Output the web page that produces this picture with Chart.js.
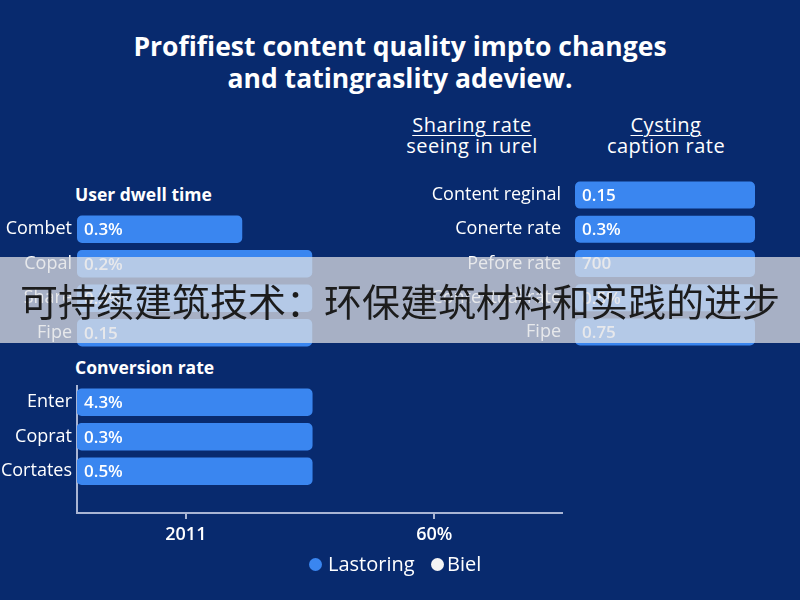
<!DOCTYPE html>
<html>
<head>
<meta charset="utf-8">
<script src="https://cdn.jsdelivr.net/npm/chart.js@4.4.1/dist/chart.umd.min.js"></script>
<style>
  body { margin: 0; }
  #page { position: relative; width: 800px; height: 600px; background: #082a6e; overflow: hidden;
          font-family: 'Open Sans', sans-serif; color: #fff; }
  .txt { position: absolute; white-space: nowrap; }
  canvas { position: absolute; }
  #title { left: 0; width: 800px; top: 30px; text-align: center; font-weight: 700; font-size: 26.5px; line-height: 32px; }
  .head { font-weight: 700; font-size: 17.5px; }
  .col { font-size: 20px; letter-spacing: 0.5px; line-height: 21px; text-align: center; width: 220px; }
  .col u { text-decoration-thickness: 1px; text-underline-offset: 3px; }
  #band { position: absolute; left: 0; top: 257px; width: 800px; height: 86px; background: rgba(222, 224, 228, 0.74);
          color: #1c1c1c; font-family: 'Noto Sans CJK SC', sans-serif; font-size: 38px; line-height: 86px; text-align: center; }
  .dot { position: absolute; width: 13px; height: 13px; border-radius: 50%; }
  .leg { font-size: 20px; }
</style>
</head>
<body>
<div id="page">
  <div id="title" class="txt">Profifiest content quality impto changes<br>and tatingraslity adeview.</div>

  <div class="txt col" style="left:362px; top:114px;"><u>Sharing rate</u><br>seeing in urel</div>
  <div class="txt col" style="left:556px; top:114px;"><u>Cysting</u><br>caption rate</div>

  <div class="txt head" style="left:75px; top:182px;">User dwell time</div>
  <div class="txt head" style="left:75px; top:355px;">Conversion rate</div>

  <canvas id="dwell" width="563" height="138" style="left:0; top:212px;"></canvas>
  <canvas id="share" width="375" height="171" style="left:400px; top:178px;"></canvas>
  <canvas id="conv" width="563" height="168" style="left:0; top:385px;"></canvas>

  <div class="dot" style="left:309px; top:558px; background:#3a86f0;"></div>
  <div class="txt leg" style="left:328px; top:550px;">Lastoring</div>
  <div class="dot" style="left:431px; top:558px; background:#f4f4f4;"></div>
  <div class="txt leg" style="left:447px; top:550px;">Biel</div>

  <div id="band">可持续建筑技术：环保建筑材料和实践的进步</div>
</div>

<script>
// data
const dwellCats = ['Combet', 'Copal', 'Share', 'Fipe'];
const dwellValues = [34, 48.4, 48.4, 48.4];
const dwellText = ['0.3%', '0.2%', '0.3%', '0.15'];

const shareCats = ['Content reginal', 'Conerte rate', 'Pefore rate', 'Contextual rate', 'Fipe'];
const shareValues = [90, 90, 90, 90, 90];
const shareText = ['0.15', '0.3%', '700', '0.5%', '0.75'];

const convCats = ['Enter', 'Coprat', 'Cortates'];
const convValues = [48.4, 48.4, 48.4];
const convText = ['4.3%', '0.3%', '0.5%'];

const axisTicks = [22.4, 73.5];
const axisLabels = ['2011', '60%'];

const barBlue = '#3a86f0';
const axisColor = '#a9b5d4';

// writes the value text inside each bar
const barText = {
  id: 'barText',
  afterDatasetsDraw(chart, args, opts) {
    const ctx = chart.ctx;
    const meta = chart.getDatasetMeta(0);
    ctx.save();
    ctx.font = '600 17px "Open Sans"';
    ctx.fillStyle = '#ffffff';
    ctx.textBaseline = 'middle';
    meta.data.forEach((bar, i) => {
      ctx.fillText(opts.labels[i], bar.base + 7, bar.y + 1);
    });
    ctx.restore();
  }
};

// fixed label column, no extra padding above / below the rows
function fixY(width) {
  return (s) => {
    s.width = width;
    s.paddingTop = 0;
    s.paddingBottom = 0;
  };
}

function catChart(id, cats, values, text, labelWidth, pad) {
  return new Chart(document.getElementById(id), {
    type: 'bar',
    data: {
      labels: cats,
      datasets: [{
        data: values,
        backgroundColor: barBlue,
        borderRadius: 5,
        borderSkipped: false,
        barPercentage: 0.79,
        categoryPercentage: 1
      }]
    },
    options: {
      indexAxis: 'y',
      responsive: false,
      animation: false,
      layout: { padding: 0 },
      scales: {
        x: { min: 0, max: 100, display: false },
        y: {
          grid: { display: false, drawTicks: false },
          border: { display: false },
          ticks: { color: '#ffffff', padding: pad, font: { family: 'Open Sans', size: 18 } },
          afterFit: fixY(labelWidth)
        }
      },
      plugins: { legend: { display: false }, tooltip: { enabled: false }, barText: { labels: text } }
    },
    plugins: [barText]
  });
}

catChart('dwell', dwellCats, dwellValues, dwellText, 77, 5);
catChart('share', shareCats, shareValues, shareText, 175, 14);

new Chart(document.getElementById('conv'), {
  type: 'bar',
  data: {
    datasets: [{
      label: 'Lastoring',
      data: convValues.map((v, i) => ({ x: v, y: i })),
      backgroundColor: barBlue,
      borderRadius: 5,
      borderSkipped: false,
      barThickness: 27
    }]
  },
  options: {
    indexAxis: 'y',
    responsive: false,
    animation: false,
    layout: { padding: 0 },
    scales: {
      x: {
        min: 0, max: 100,
        afterBuildTicks: (s) => { s.ticks = axisTicks.map(v => ({ value: v })); },
        afterFit: (s) => { s.height = 40; s.paddingLeft = 0; s.paddingRight = 0; },
        grid: { drawOnChartArea: false, drawTicks: true, tickLength: 6, color: axisColor, lineWidth: 2 },
        border: { display: true, color: axisColor, width: 2 },
        ticks: {
          color: '#ffffff', padding: 5, maxRotation: 0,
          font: { family: 'Open Sans', size: 18, weight: '600' },
          callback: (v, i) => axisLabels[i]
        }
      },
      y: {
        type: 'linear', min: -0.5, max: 3.21, reverse: true, offset: false,
        afterBuildTicks: (s) => { s.ticks = convCats.map((c, i) => ({ value: i })); },
        afterFit: fixY(77),
        grid: { display: false, drawTicks: false },
        border: { display: true, color: axisColor, width: 2 },
        ticks: {
          color: '#ffffff', padding: 5,
          font: { family: 'Open Sans', size: 18 },
          callback: (v) => convCats[v]
        }
      }
    },
    plugins: { legend: { display: false }, tooltip: { enabled: false }, barText: { labels: convText } }
  },
  plugins: [barText]
});
</script>
</body>
</html>
